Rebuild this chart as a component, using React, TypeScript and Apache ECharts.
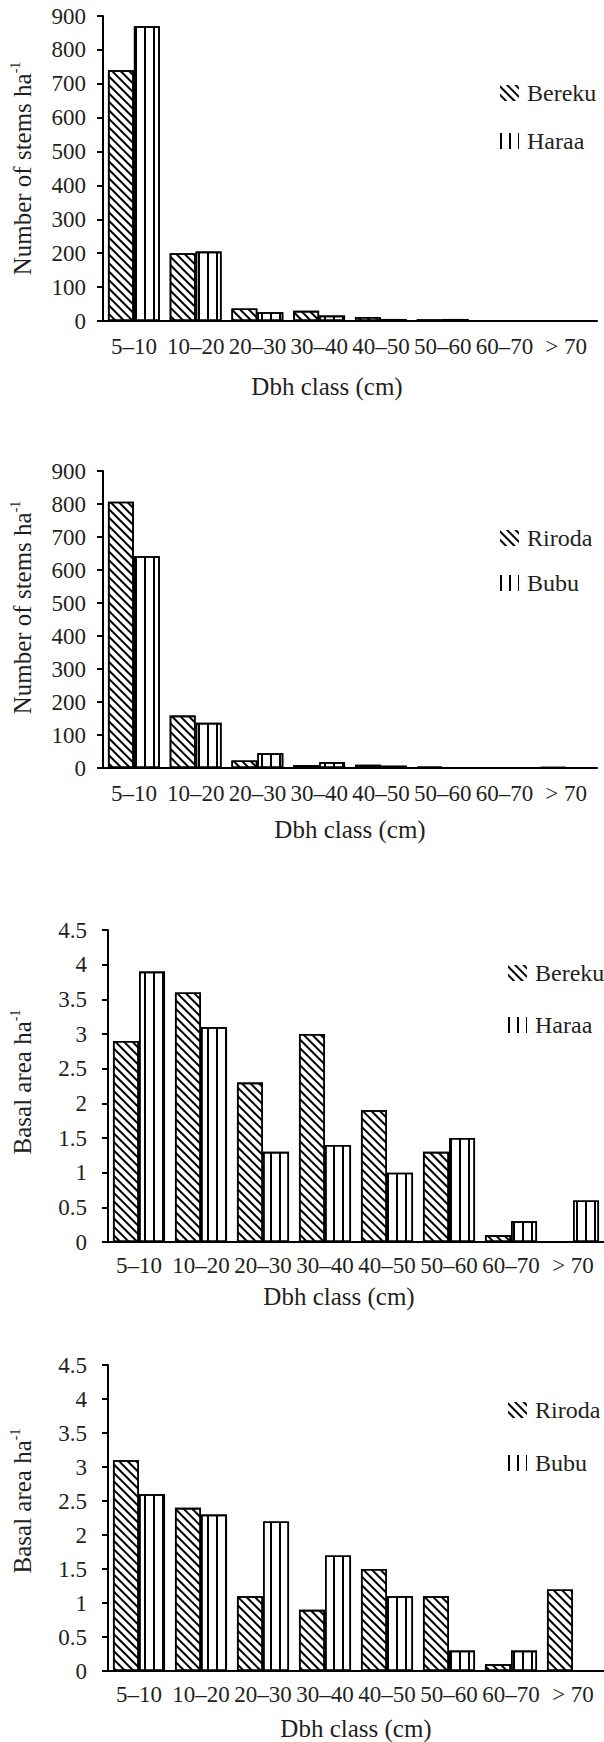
import React, { useEffect, useRef } from "react";
import * as echarts from "echarts";

const categories = ["5–10", "10–20", "20–30", "30–40", "40–50", "50–60", "60–70", "> 70"];
const stemsBereku = [740, 200, 37, 30, 12, 5, 0, 0];
const stemsHaraa = [870, 205, 26, 16, 6, 6, 0, 0];
const stemsRiroda = [807, 159, 23, 9, 10, 4, 0, 3];
const stemsBubu = [642, 137, 45, 18, 7, 1, 0, 0];
const basalBereku = [2.9, 3.6, 2.3, 3.0, 1.9, 1.3, 0.1, 0];
const basalHaraa = [3.9, 3.1, 1.3, 1.4, 1.0, 1.5, 0.3, 0.6];
const basalRiroda = [3.1, 2.4, 1.1, 0.9, 1.5, 1.1, 0.1, 1.2];
const basalBubu = [2.6, 2.3, 2.2, 1.7, 1.1, 0.3, 0.3, 0];

const xName = "Dbh class (cm)";
const stemsName = "{a|Number of stems ha}{b|-1}";
const basalName = "{a|Basal area ha}{b|-1}";

const FONT = "Liberation Serif";
const TXT = "#231f20";

const hatch = {
  symbol: "rect",
  symbolSize: 1,
  color: "#000",
  dashArrayX: [1, 0],
  dashArrayY: [1.4, 3.2],
  rotation: Math.PI / 4,
};
const vstripe = {
  symbol: "rect",
  symbolSize: 1,
  color: "#000",
  dashArrayX: [1.6, 6.8],
  dashArrayY: [1, 0],
  rotation: 0,
};

const panels = [
  { grid: { left: 100, top: 16, width: 497, height: 305 }, max: 900, interval: 100, yName: stemsName, yGap: 67, yShift: 0, xGap: 53, xShift: 46, labelMargin: 17, xLabelMargin: 14, names: ["Bereku", "Haraa"], a: stemsBereku, b: stemsHaraa, legendTop: 76, legendLeft: 495, legendGap: 24 },
  { grid: { left: 100, top: 471, width: 497, height: 297 }, max: 900, interval: 100, yName: stemsName, yGap: 67, yShift: 24, xGap: 49, xShift: 0, labelMargin: 17, xLabelMargin: 14, names: ["Riroda", "Bubu"], a: stemsRiroda, b: stemsBubu, legendTop: 521, legendLeft: 495, legendGap: 21 },
  { grid: { left: 105, top: 930, width: 502, height: 312 }, max: 4.5, interval: 0.5, yName: basalName, yGap: 72, yShift: 8, xGap: 42, xShift: 34, labelMargin: 21, xLabelMargin: 12, names: ["Bereku", "Haraa"], a: basalBereku, b: basalHaraa, legendTop: 956, legendLeft: 503, legendGap: 28 },
  { grid: { left: 105, top: 1365, width: 502, height: 309 }, max: 4.5, interval: 0.5, yName: basalName, yGap: 72, yShift: 34, xGap: 45, xShift: 0, labelMargin: 21, xLabelMargin: 12, names: ["Riroda", "Bubu"], a: basalRiroda, b: basalBubu, legendTop: 1393, legendLeft: 503, legendGap: 29 },
];

function buildOption() {
  const grid = panels.map((p) => ({ ...p.grid, containLabel: false }));
  const xAxis = panels.map((p, i) => ({
    type: "category",
    gridIndex: i,
    data: categories,
    name: xName,
    nameLocation: "middle",
    nameGap: p.xGap,
    nameTextStyle: { fontFamily: FONT, fontSize: 25, color: TXT, padding: [0, p.xShift, 0, 0] },
    axisLine: { lineStyle: { color: "#000", width: 2 } },
    axisTick: { show: false },
    axisLabel: { interval: 0, fontFamily: FONT, fontSize: 23, color: TXT, margin: p.xLabelMargin },
  }));
  const yAxis = panels.map((p, i) => ({
    type: "value",
    gridIndex: i,
    min: 0,
    max: p.max,
    interval: p.interval,
    name: p.yName,
    nameLocation: "middle",
    nameRotate: 90,
    nameGap: p.yGap,
    nameTextStyle: {
      fontFamily: FONT,
      padding: [0, 0, 0, p.yShift],
      rich: {
        a: { fontFamily: FONT, fontSize: 25, color: TXT, lineHeight: 28 },
        b: { fontFamily: FONT, fontSize: 14, color: TXT, lineHeight: 14, verticalAlign: "top" },
      },
    },
    splitLine: { show: false },
    axisLine: { show: true, lineStyle: { color: "#000", width: 2 } },
    axisTick: { show: true, length: 6, lineStyle: { color: "#000", width: 2 } },
    axisLabel: { fontFamily: FONT, fontSize: 23, color: TXT, margin: p.labelMargin },
  }));
  const series: any[] = [];
  panels.forEach((p, i) => {
    series.push({
      type: "bar",
      name: p.names[0],
      xAxisIndex: i,
      yAxisIndex: i,
      data: p.a,
      barGap: "0%",
      barCategoryGap: "16%",
      itemStyle: { color: "#fff", borderColor: "#000", borderWidth: 1.6, decal: hatch },
    });
    series.push({
      type: "bar",
      name: p.names[1],
      xAxisIndex: i,
      yAxisIndex: i,
      data: p.b,
      barGap: "0%",
      barCategoryGap: "16%",
      itemStyle: { color: "#fff", borderColor: "#000", borderWidth: 1.6, decal: vstripe },
    });
  });
  const legend = panels.map((p) => ({
    data: p.names,
    orient: "vertical",
    left: p.legendLeft,
    top: p.legendTop,
    icon: "rect",
    itemWidth: 19,
    itemHeight: 16,
    itemGap: p.legendGap,
    selectedMode: false,
    itemStyle: { borderWidth: 0 },
    textStyle: { fontFamily: FONT, fontSize: 24, color: TXT, padding: [0, 0, 0, 3] },
  }));
  return {
    animation: false,
    backgroundColor: "#fff",
    textStyle: { fontFamily: FONT },
    grid,
    xAxis,
    yAxis,
    series,
    legend,
  };
}

export default function App() {
  const ref = useRef<HTMLDivElement>(null);
  useEffect(() => {
    if (!ref.current) return;
    const chart = echarts.init(ref.current, undefined, { renderer: "svg" });
    chart.setOption(buildOption() as any);
    return () => chart.dispose();
  }, []);
  return (
    <div
      ref={ref}
      style={{ position: "absolute", left: 0, top: 0, width: 604, height: 1742 }}
    />
  );
}
